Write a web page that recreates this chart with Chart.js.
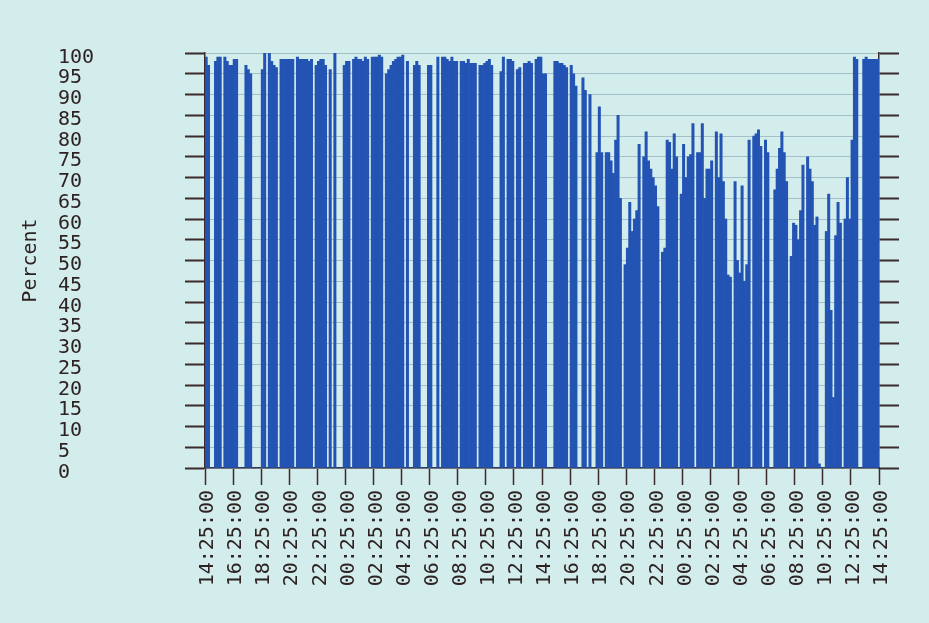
<!DOCTYPE html>
<html>
<head>
<meta charset="utf-8">
<script src="https://cdn.jsdelivr.net/npm/chart.js@4/dist/chart.umd.min.js"></script>
<style>
  html, body { margin: 0; padding: 0; background: #d3ecec; }
  #wrap { width: 929px; height: 623px; }
</style>
</head>
<body>
<div id="wrap"><canvas id="myChart"></canvas></div>
<script>
// one sample every 10 minutes, 48 hours from 14:25
const binMinutes = 10;

const tickLabels = [
  '14:25:00', '16:25:00', '18:25:00', '20:25:00', '22:25:00', '00:25:00',
  '02:25:00', '04:25:00', '06:25:00', '08:25:00', '10:25:00', '12:25:00',
  '14:25:00', '16:25:00', '18:25:00', '20:25:00', '22:25:00', '00:25:00',
  '02:25:00', '04:25:00', '06:25:00', '08:25:00', '10:25:00', '12:25:00',
  '14:25:00'
];

// percent, one row per 2 hours (12 samples)
const percent = [
  99, 97, 0, 0, 98, 99, 99, 0, 99, 98, 97, 97,
  98.5, 98.5, 0, 0, 0, 97, 96, 95, 0, 0, 0, 0,
  96, 100, 0, 100, 98, 97, 96.5, 0, 98.5, 98.5, 98.5, 98.5,
  98.5, 98.5, 0, 99, 98.5, 98.5, 98.5, 98.5, 98, 98.5, 0, 97,
  98, 98.5, 98.5, 97, 0, 96, 0, 100, 0, 0, 0, 97,
  98, 98, 0, 98.5, 99, 98.5, 98.5, 98, 99, 98.5, 0, 99,
  99, 99, 99.5, 99, 0, 95, 96, 97, 98, 98.5, 99, 99,
  99.5, 0, 98, 0, 0, 97, 98, 97, 0, 0, 0, 97,
  97, 0, 0, 99, 0, 99, 99, 98.5, 98, 99, 98, 98,
  0, 98, 98, 97.5, 98.5, 97.5, 97.5, 97.5, 0, 97, 97, 97.5,
  98, 98.5, 97, 0, 0, 0, 95.5, 99, 0, 98.5, 98.5, 98,
  0, 96, 96.5, 0, 97.5, 97.5, 98, 97.5, 0, 98.5, 99, 99,
  95, 95, 0, 0, 0, 98, 98, 97.5, 97.5, 97, 96.5, 0,
  97, 95, 92, 0, 0, 94, 91, 0, 90, 0, 0, 76,
  87, 76, 0, 76, 76, 74, 71, 79, 85, 65, 0, 49,
  53, 64, 57, 60, 62, 78, 0, 75, 81, 74, 72, 70,
  68, 63, 0, 52, 53, 79, 78.5, 72, 80.5, 75, 0, 66,
  78, 70, 75, 75.5, 83, 0, 76, 76, 83, 65, 72, 72,
  74, 0, 81, 70, 80.5, 69, 60, 46.5, 46, 0, 69, 50,
  47, 68, 45, 49, 79, 0, 80, 80.5, 81.5, 77.5, 0, 79,
  76, 0, 0, 67, 72, 77, 81, 76, 69, 0, 51, 59,
  58.5, 55, 62, 73, 0, 75, 72, 69, 58.5, 60.5, 1, 0,
  0, 57, 66, 38, 17, 56, 64, 59, 0, 60, 70, 60,
  79, 99, 98.5, 0, 0, 98.5, 99, 98.5, 98.5, 98.5, 98.5, 98.5
];

const axisColor = '#3b2a2a';
const textColor = '#2e2222';
const gridColor = '#a3bfc8';

Chart.defaults.font.family = "'DejaVu Sans Mono', monospace";
Chart.defaults.font.size = 20;
Chart.defaults.color = textColor;

const ctx = document.getElementById('myChart').getContext('2d');
const myChart = new Chart(ctx, {
  type: 'bar',
  data: {
    datasets: [{
      data: percent.map((v, i) => ({ x: i * binMinutes + binMinutes / 2, y: v })),
      backgroundColor: '#2353b3',
      borderWidth: 0,
      barPercentage: 1,
      categoryPercentage: 1
    }]
  },
  options: {
    responsive: true,
    maintainAspectRatio: false,
    animation: false,
    layout: { padding: { top: 53, right: 30, bottom: 0, left: 0 } },
    plugins: {
      legend: { display: false },
      tooltip: { enabled: false }
    },
    scales: {
      x: {
        type: 'linear',
        min: 0,
        max: 2880,
        offset: false,
        afterFit: (a) => { a.height = 155; },
        ticks: {
          stepSize: 120,
          autoSkip: false,
          maxRotation: 90,
          minRotation: 90,
          padding: 5,
          labelOffset: 3,
          callback: (v) => tickLabels[v / 120]
        },
        grid: { drawOnChartArea: false, offset: false, tickLength: 17, tickColor: axisColor, tickWidth: 1.5 },
        border: { color: axisColor, width: 1.5 }
      },
      y: {
        position: 'left',
        min: 0,
        max: 100,
        afterFit: (a) => { a.width = 147; },
        ticks: { stepSize: 5, autoSkip: false, crossAlign: 'far', labelOffset: 4.5, padding: 0 },
        grid: { color: gridColor, lineWidth: 1, tickLength: 20, tickColor: axisColor, tickWidth: 2 },
        border: { color: axisColor, width: 1.5 }
      },
      yTitle: {
        position: 'left',
        weight: 5,
        afterFit: (a) => { a.width = 58; },
        ticks: { display: false },
        grid: { display: false, drawTicks: false },
        border: { display: false },
        title: { display: true, text: 'Percent', padding: { top: 19, bottom: 0 } }
      },
      y2: {
        position: 'right',
        min: 0,
        max: 100,
        afterFit: (a) => { a.width = 20; },
        ticks: { stepSize: 5, display: false },
        grid: { drawOnChartArea: false, tickLength: 20, tickColor: axisColor, tickWidth: 2 },
        border: { color: axisColor, width: 1.5 }
      }
    }
  }
});
</script>
</body>
</html>
